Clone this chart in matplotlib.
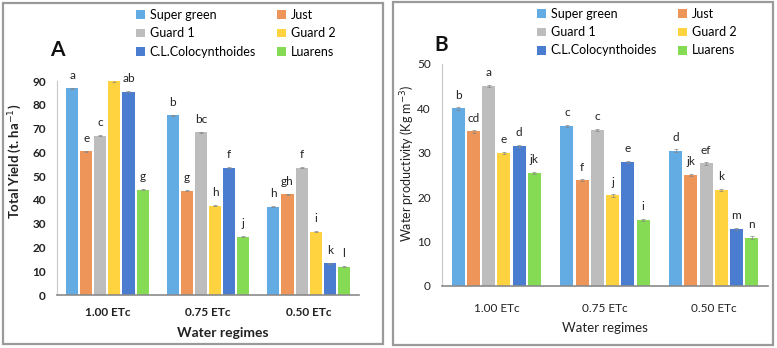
import matplotlib
matplotlib.use("Agg")
import matplotlib.pyplot as plt
import numpy as np
from matplotlib.patches import Rectangle, Patch

plt.rcParams['font.family'] = ['Lato', 'DejaVu Sans']

# data
regimes = ['1.00 ETc', '0.75 ETc', '0.50 ETc']
cultivars = ['Super green', 'Just', 'Guard 1', 'Guard 2', 'C.L.Colocynthoides', 'Luarens']
colors = ['#62ABE3', '#EE955A', '#BDBDBD', '#FFD23F', '#4A7DD0', '#86DB55']

# total yield (t/ha), one list per cultivar over the three regimes
yield_sg = [87.0, 75.5, 37.2]
yield_just = [60.5, 43.8, 42.3]
yield_g1 = [67.0, 68.5, 53.5]
yield_g2 = [90.0, 37.6, 26.6]
yield_cl = [85.5, 53.5, 13.3]
yield_lu = [44.2, 24.6, 11.9]
yield_letters = [['a', 'b', 'h'], ['e', 'g', 'gh'], ['c', 'bc', 'f'],
                 ['', 'h', 'i'], ['ab', 'f', 'k'], ['g', 'j', 'l']]

# water productivity (kg/m3)
wp_sg = [40.0, 36.0, 30.5]
wp_just = [34.8, 23.8, 25.0]
wp_g1 = [45.0, 35.1, 27.6]
wp_g2 = [30.0, 20.4, 21.7]
wp_cl = [31.6, 27.9, 12.9]
wp_lu = [25.5, 14.9, 10.9]
wp_letters = [['b', 'c', 'd'], ['cd', 'f', 'jk'], ['a', 'c', 'ef'],
              ['e', 'j', 'k'], ['d', 'e', 'm'], ['jk', 'i', 'n']]

err = 0.25

W, H = 777, 348
fig = plt.figure(figsize=(W / 100, H / 100), dpi=100)

# panel frames
for x0, y0, x1, y1 in [(3, 3, 383, 344), (393, 2, 773, 345)]:
    fig.patches.append(Rectangle((x0 / W, 1 - y1 / H), (x1 - x0) / W, (y1 - y0) / H,
                                 transform=fig.transFigure, fill=False,
                                 edgecolor='#9a9a9a', linewidth=1.6))


def draw(ax, series, letters, ymax, step, bold, xpad):
    x = np.arange(len(regimes))
    for i, (vals, c) in enumerate(zip(series, colors)):
        pos = x + (i - 2.5) * 0.14
        ax.bar(pos, vals, 0.12, color=c, edgecolor='none', zorder=2)
        ax.errorbar(pos, vals, yerr=err, fmt='none', ecolor='#888888',
                    elinewidth=0.5, capsize=1.2, capthick=0.5, zorder=3)
        for p, v, l in zip(pos, vals, letters[i]):
            ax.text(p, v + ymax * 0.035, l, ha='center', va='bottom',
                    fontsize=8.5, color='#222222', clip_on=False)
    ax.set_xlim(-0.5, 2.5)
    ax.set_ylim(0, ymax)
    ax.set_yticks(np.arange(0, ymax + 1, step))
    ax.set_xticks(x)
    ax.set_xticklabels(regimes)
    ax.tick_params(length=0, labelsize=8.5, colors='#222222')
    ax.tick_params(axis='y', pad=8)
    ax.tick_params(axis='x', pad=xpad)
    for s in ['top', 'right']:
        ax.spines[s].set_visible(False)
    ax.spines['left'].set_color('#c8c8c8')
    ax.spines['bottom'].set_color('#8a8a8a')
    ax.spines['bottom'].set_linewidth(1.2)
    if bold:
        for t in ax.get_xticklabels() + ax.get_yticklabels():
            t.set_fontweight('bold')


axA = fig.add_axes([57 / W, 1 - 295 / H, 302 / W, 214 / H])
draw(axA, [yield_sg, yield_just, yield_g1, yield_g2, yield_cl, yield_lu],
     yield_letters, 90, 10, True, 9)

axB = fig.add_axes([442 / W, 1 - 286 / H, 326 / W, 222 / H])
draw(axB, [wp_sg, wp_just, wp_g1, wp_g2, wp_cl, wp_lu],
     wp_letters, 50, 10, False, 12)

# labels
fig.text(15 / W, 1 - 161 / H, 'Total Yield (t. ha$^{-1}$)', rotation=90,
         ha='center', va='center', fontsize=9.5, fontweight='bold', color='#222222')
fig.text(408 / W, 1 - 163 / H, 'Water productivity (Kg m$^{-3}$)', rotation=90,
         ha='center', va='center', fontsize=9, color='#222222')
fig.text(223 / W, 1 - 333 / H, 'Water regimes', ha='center', va='center',
         fontsize=10, fontweight='bold', color='#222222')
fig.text(605 / W, 1 - 328 / H, 'Water regimes', ha='center', va='center',
         fontsize=9.5, color='#222222')
fig.text(57 / W, 1 - 50 / H, 'A', ha='center', va='center', fontsize=15,
         fontweight='bold', color='#111111')
fig.text(441 / W, 1 - 45 / H, 'B', ha='center', va='center', fontsize=15,
         fontweight='bold', color='#111111')

# legends, row-wise order like the original
order = [0, 2, 4, 1, 3, 5]
handles = [Patch(facecolor=colors[i], edgecolor='none') for i in order]
labels = [cultivars[i] for i in order]
for lx, ty in [(136, 9), (537, 8)]:
    fig.legend(handles, labels, loc='upper left', bbox_to_anchor=(lx / W, 1 - ty / H),
               ncol=2, frameon=False, fontsize=9, handlelength=0.7, handleheight=0.7,
               handletextpad=0.4, columnspacing=1.7, labelspacing=0.5,
               borderpad=0, borderaxespad=0)

fig.savefig('out.png', dpi=100)
